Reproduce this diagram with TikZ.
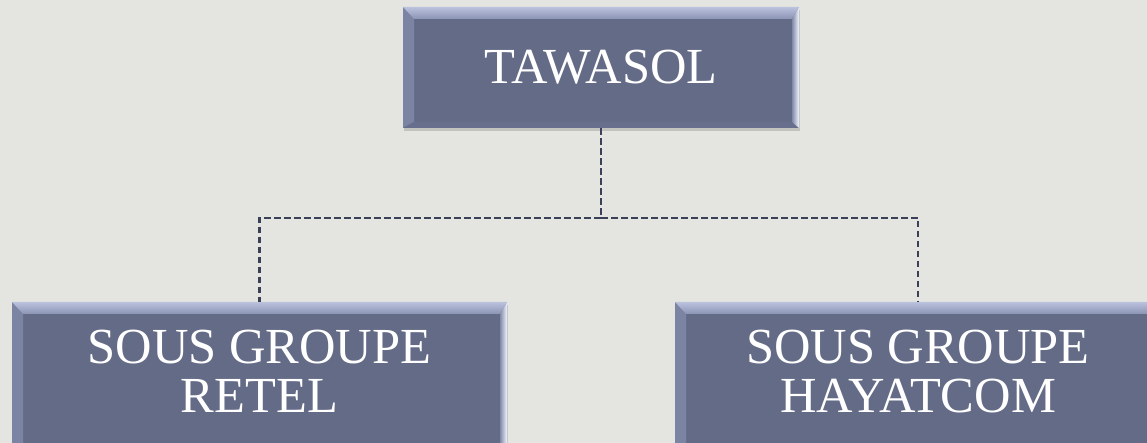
\documentclass[tikz,border=0pt]{standalone}
\usepackage{fontspec}
\setmainfont{Liberation Serif}
\usetikzlibrary{shadows}
\definecolor{bg}{RGB}{228,228,224}
\definecolor{boxfill}{RGB}{100,107,135}
\definecolor{bevtopA}{RGB}{186,194,222}
\definecolor{bevtopB}{RGB}{140,148,180}
\definecolor{bevleft}{RGB}{124,132,163}
\definecolor{bevrightA}{RGB}{130,138,170}
\definecolor{bevrightB}{RGB}{240,246,255}
\definecolor{bevbot}{RGB}{104,111,140}
\definecolor{connc}{RGB}{58,64,86}
\tikzset{
  box/.style={draw=none, fill=boxfill, inner sep=0pt, text=white,
    font=\fontsize{50.5}{49}\selectfont, align=center,
    drop shadow={opacity=0.22, shadow xshift=1pt, shadow yshift=-3pt, fill=black!70},
    path picture={
      \fill[bevleft] (path picture bounding box.north west) --
        ([xshift=11pt,yshift=-12pt]path picture bounding box.north west) --
        ([xshift=11pt,yshift=6pt]path picture bounding box.south west) --
        (path picture bounding box.south west) -- cycle;
      \fill[bevbot] (path picture bounding box.south west) --
        ([xshift=11pt,yshift=6pt]path picture bounding box.south west) --
        ([xshift=-7pt,yshift=6pt]path picture bounding box.south east) --
        (path picture bounding box.south east) -- cycle;
      \shade[left color=bevrightA, right color=bevrightB] (path picture bounding box.north east) --
        ([xshift=-7pt,yshift=-12pt]path picture bounding box.north east) --
        ([xshift=-7pt,yshift=6pt]path picture bounding box.south east) --
        (path picture bounding box.south east) -- cycle;
      \shade[top color=bevtopA, bottom color=bevtopB] (path picture bounding box.north west) --
        (path picture bounding box.north east) --
        ([xshift=-7pt,yshift=-12pt]path picture bounding box.north east) --
        ([xshift=11pt,yshift=-12pt]path picture bounding box.north west) -- cycle;
    }},
  conn/.style={draw=connc, line width=2.2pt, dash pattern=on 6.5pt off 3.5pt}
}
\begin{document}
\begin{tikzpicture}[x=1pt,y=1pt]
\fill[bg] (0,0) rectangle (1147,443);
\useasboundingbox (0,0) rectangle (1147,443);
\clip (0,0) rectangle (1147,443);
\node[box, minimum width=396pt, minimum height=121pt] (top) at (601,375.5) {TAWASOL};
\node[box, minimum width=495pt, minimum height=168pt, text depth=30pt] (retel) at (259.5,57) {SOUS GROUPE\\RETEL};
\node[box, minimum width=486pt, minimum height=168pt, text depth=30pt] (hayat) at (918,57) {SOUS GROUPE\\HAYATCOM};
\coordinate (j) at (601,225);
\draw[conn] (top.south) -- (j) -| (retel.north);
\draw[conn] (j) -| (hayat.north);
\end{tikzpicture}
\end{document}
